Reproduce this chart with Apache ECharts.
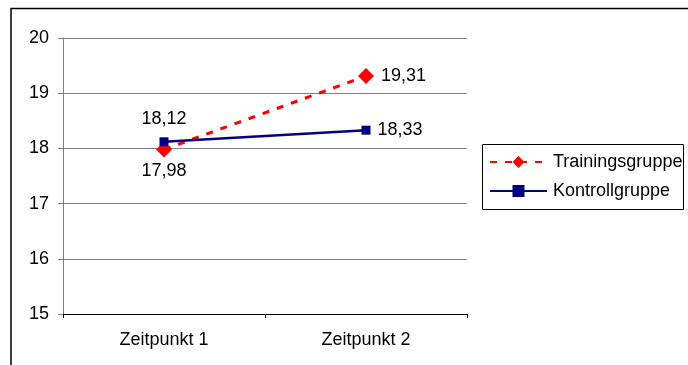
<!DOCTYPE html>
<html>
<head>
<meta charset="utf-8">
<script src="https://cdn.jsdelivr.net/npm/echarts@6/dist/echarts.min.js"></script>
<style>
  html, body { margin: 0; padding: 0; background: #fff; }
  #chart { width: 688px; height: 365px; }
</style>
</head>
<body>
<div id="chart"></div>
<script>
var categories = ["Zeitpunkt 1", "Zeitpunkt 2"];
var training = [17.98, 19.31];
var kontroll = [18.12, 18.33];
var seriesNames = ["Trainingsgruppe", "Kontrollgruppe"];

var chart = echarts.init(document.getElementById("chart"));
var font = "Liberation Sans, Arial, sans-serif";

function fmt(p) {
  return p.value.toFixed(2).replace(".", ",");
}

chart.setOption({
  backgroundColor: "#fff",
  animation: false,
  textStyle: { fontFamily: font },
  graphic: [
    {
      type: "polyline",
      shape: { points: [[11, 365], [11, 8.5], [688, 8.5]] },
      style: { stroke: "#000", lineWidth: 1.5, fill: null }
    },
    {
      type: "rect",
      shape: { x: 482.5, y: 144.5, width: 201, height: 65 },
      style: { stroke: "#000", lineWidth: 1, fill: null },
      z: -1
    }
  ],
  legend: {
    orient: "vertical",
    left: 482,
    top: 152,
    padding: [0, 0, 0, 7],
    itemGap: 9,
    itemWidth: 57,
    itemHeight: 15,
    textStyle: { fontFamily: font, fontSize: 18, lineHeight: 20, color: "#000", padding: [0, 0, 0, 1] },
    data: seriesNames
  },
  grid: {
    left: 63,
    right: 221,
    top: 38,
    bottom: 51
  },
  xAxis: {
    type: "category",
    data: categories,
    boundaryGap: true,
    axisLine: { lineStyle: { color: "#000", width: 1 } },
    axisTick: { show: true, length: 4, lineStyle: { color: "#000" } },
    axisLabel: { color: "#000", fontSize: 18, margin: 17, fontFamily: font }
  },
  yAxis: {
    type: "value",
    min: 15,
    max: 20,
    interval: 1,
    axisLine: { show: true, lineStyle: { color: "#808080" } },
    axisTick: { show: true, length: 5, lineStyle: { color: "#808080" } },
    axisLabel: { color: "#000", fontSize: 18, margin: 14, fontFamily: font },
    splitLine: { lineStyle: { color: "#808080", width: 1 } }
  },
  series: [
    {
      name: seriesNames[0],
      type: "line",
      data: [
        { value: training[0], label: { position: "bottom", distance: 5 } },
        { value: training[1], label: { position: "right", distance: 7 } }
      ],
      symbol: "diamond",
      symbolSize: 16,
      color: "#ff0000",
      lineStyle: { color: "#ff0000", width: 3, type: [7, 8] },
      itemStyle: { color: "#ff0000" },
      z: 2,
      label: {
        show: true,
        formatter: fmt,
        color: "#000",
        fontSize: 18,
        fontFamily: font
      },
      emphasis: { disabled: true }
    },
    {
      name: seriesNames[1],
      type: "line",
      data: [
        { value: kontroll[0], label: { position: "top", distance: 9 } },
        { value: kontroll[1], label: { position: "right", distance: 7 } }
      ],
      symbol: "rect",
      symbolSize: 9,
      color: "#000080",
      lineStyle: { color: "#000080", width: 2.5 },
      itemStyle: { color: "#000080" },
      z: 3,
      label: {
        show: true,
        formatter: fmt,
        color: "#000",
        fontSize: 18,
        fontFamily: font
      },
      emphasis: { disabled: true }
    }
  ]
});
</script>
</body>
</html>
